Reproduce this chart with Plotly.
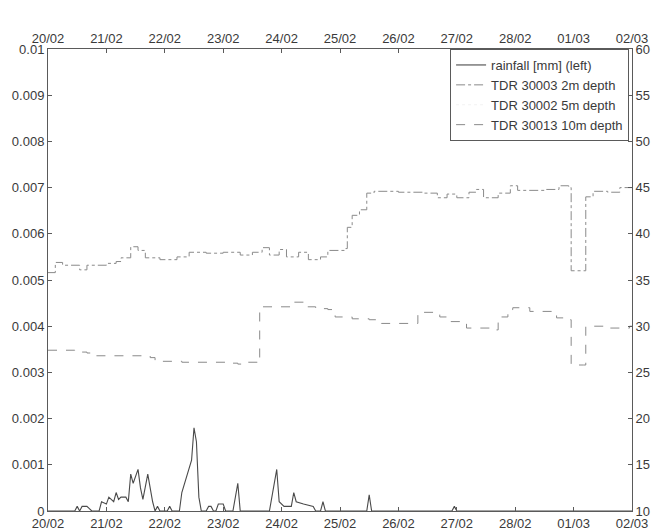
import pandas as pd
import plotly.graph_objects as go

# Observation window
start_date = "2011-02-20"
end_date = "2011-03-02"
day_ticks = pd.date_range(start_date, end_date, freq="D")

# Rainfall [mm], hours since start
rain_hours = [0, 11, 12, 13, 14, 16, 17, 18,
              21, 22, 24, 25, 27, 28, 29, 30, 32, 33, 34, 35, 37, 38, 39, 41, 43, 44, 45, 46,
              49, 50, 51,
              54, 55, 59, 60, 61, 62, 63,
              65, 66, 67, 68, 69, 70, 72, 73,
              76, 78, 79,
              91, 94, 95, 97, 100, 101, 102, 105, 109, 110, 112, 113, 114,
              131, 132, 133,
              166, 167, 168, 240]
rain_mm = [0, 0, 0.0001, 0, 0.0001, 0.0001, 0.00005, 0,
           0, 0.0002, 0.00015, 0.0003, 0.0002, 0.0004, 0.00025, 0.0003, 0.0003, 0.0002, 0.0008, 0.0006, 0.0009, 0.0005, 0.00025, 0.0008, 0.0002, 0, 0.0001, 0,
           0, 0.0001, 0,
           0, 0.0004, 0.0011, 0.0018, 0.0015, 0.0003, 0,
           0, 0.0001, 0.0001, 0, 0, 0.00015, 0.00015, 0,
           0, 0.0006, 0,
           0, 0.0009, 0.0002, 0.0001, 0.0001, 0.0004, 0.0002, 0.00015, 0.0001, 0, 0, 0.0002, 0,
           0, 0.00035, 0,
           0, 0.0001, 0, 0]

# TDR 30003, 2 m depth (right axis)
tdr2_hours = [0, 3, 6, 13, 16, 24, 28, 30, 34, 37, 40, 46, 53, 58, 65, 72, 79, 84, 88, 91, 95, 98,
              103, 107, 112, 115, 122, 123, 125, 128, 131, 134, 144, 154, 160, 164, 168, 173, 176,
              179, 185, 190, 193, 204, 210, 214, 215, 220, 221, 224, 230, 235, 240]
tdr2_val = [35.8, 36.9, 36.6, 36.1, 36.6, 36.8, 37.0, 37.4, 38.6, 38.2, 37.4, 37.2, 37.5, 38.0, 37.9,
            38.0, 37.7, 38.0, 38.5, 37.7, 38.3, 37.5, 38.0, 37.2, 37.5, 38.2, 38.4, 40.7, 42.0, 42.6,
            44.4, 44.6, 44.5, 44.4, 43.9, 44.3, 43.9, 44.5, 44.8, 43.9, 44.4, 45.2, 44.7, 44.8, 45.2,
            45.0, 36.0, 36.0, 44.0, 44.6, 44.5, 45.0, 45.0]

# TDR 30002, 5 m depth (no valid readings in this window)
tdr5_hours = [0]
tdr5_val = [None]

# TDR 30013, 10 m depth (right axis)
tdr10_hours = [0, 11, 16, 19, 42, 44, 55, 74, 78, 80, 86, 87, 101, 106, 110, 115, 118, 125, 132,
               137, 152, 161, 165, 172, 183, 185, 189, 191, 198, 209, 212, 215, 220, 221, 230, 239, 240]
tdr10_val = [27.4, 27.2, 27.1, 26.8, 26.6, 26.2, 26.1, 26.0, 25.9, 26.1, 26.0, 32.1, 32.6, 32.1, 31.9,
             31.8, 31.0, 30.8, 30.7, 30.3, 31.5, 31.0, 30.5, 29.8, 29.6, 31.0, 31.8, 32.0, 31.6, 30.9,
             30.7, 25.8, 25.8, 30.0, 29.8, 30.0, 30.0]

left_ticks = [0, 0.001, 0.002, 0.003, 0.004, 0.005, 0.006, 0.007, 0.008, 0.009, 0.01]
left_labels = ["0", "0.001", "0.002", "0.003", "0.004", "0.005", "0.006", "0.007", "0.008", "0.009", "0.01"]
right_ticks = [10, 15, 20, 25, 30, 35, 40, 45, 50, 55, 60]


def to_time(hours):
    return pd.Timestamp(start_date) + pd.to_timedelta(hours, unit="h")


FONT = dict(family="Liberation Sans, Arial, sans-serif", size=13, color="#3a3a3a")
AXIS_COLOR = "#5a5a5a"

fig = go.Figure()
# rainfall: bottom date axis + left axis; TDR probes: top date axis + right axis
fig.add_trace(go.Scatter(x=to_time(rain_hours), y=rain_mm, mode="lines", xaxis="x", yaxis="y",
                         name="rainfall [mm] (left)",
                         line=dict(color="#4a4a4a", width=1.1)))
fig.add_trace(go.Scatter(x=to_time(tdr2_hours), y=tdr2_val, mode="lines", xaxis="x2", yaxis="y2",
                         name="TDR 30003 2m depth",
                         line=dict(color="#8a8a8a", width=1, dash="dashdot", shape="hv")))
fig.add_trace(go.Scatter(x=to_time(tdr5_hours), y=tdr5_val, mode="lines", xaxis="x2", yaxis="y2",
                         name="TDR 30002 5m depth",
                         line=dict(color="#f2f2f2", width=1, dash="dot")))
fig.add_trace(go.Scatter(x=to_time(tdr10_hours), y=tdr10_val, mode="lines", xaxis="x2", yaxis="y2",
                         name="TDR 30013 10m depth",
                         line=dict(color="#8a8a8a", width=1, dash="dash", shape="hv")))

x_common = dict(type="date", range=[start_date, end_date], tickmode="array",
                tickvals=day_ticks, tickformat="%d/%m", ticks="inside", ticklen=4,
                tickcolor=AXIS_COLOR, showline=True, linecolor=AXIS_COLOR, linewidth=1,
                showgrid=False, zeroline=False, tickfont=FONT, automargin=False)

fig.update_layout(
    width=651, height=531,
    margin=dict(l=48, r=19, t=49, b=20),
    paper_bgcolor="white", plot_bgcolor="white",
    font=FONT,
    showlegend=True,
    xaxis=dict(**x_common),
    xaxis2=dict(**x_common, overlaying="x", side="top", anchor="y2"),
    yaxis=dict(range=[0, 0.01], tickmode="array", tickvals=left_ticks, ticktext=left_labels,
               ticks="inside", ticklen=4, tickcolor=AXIS_COLOR, showline=True,
               linecolor=AXIS_COLOR, showgrid=False, zeroline=False, tickfont=FONT,
               automargin=False),
    yaxis2=dict(range=[10, 60], tickmode="array", tickvals=right_ticks, overlaying="y",
                anchor="x2", side="right", ticks="inside", ticklen=4, tickcolor=AXIS_COLOR,
                showline=True, linecolor=AXIS_COLOR, showgrid=False, zeroline=False,
                tickfont=FONT, automargin=False),
    legend=dict(x=0.995, xanchor="right", y=1.0, yanchor="top", bgcolor="white",
                bordercolor=AXIS_COLOR, borderwidth=1,
                font=dict(family=FONT["family"], size=13, color="#3a3a3a"),
                tracegroupgap=0),
)

fig.write_html("out.html")
